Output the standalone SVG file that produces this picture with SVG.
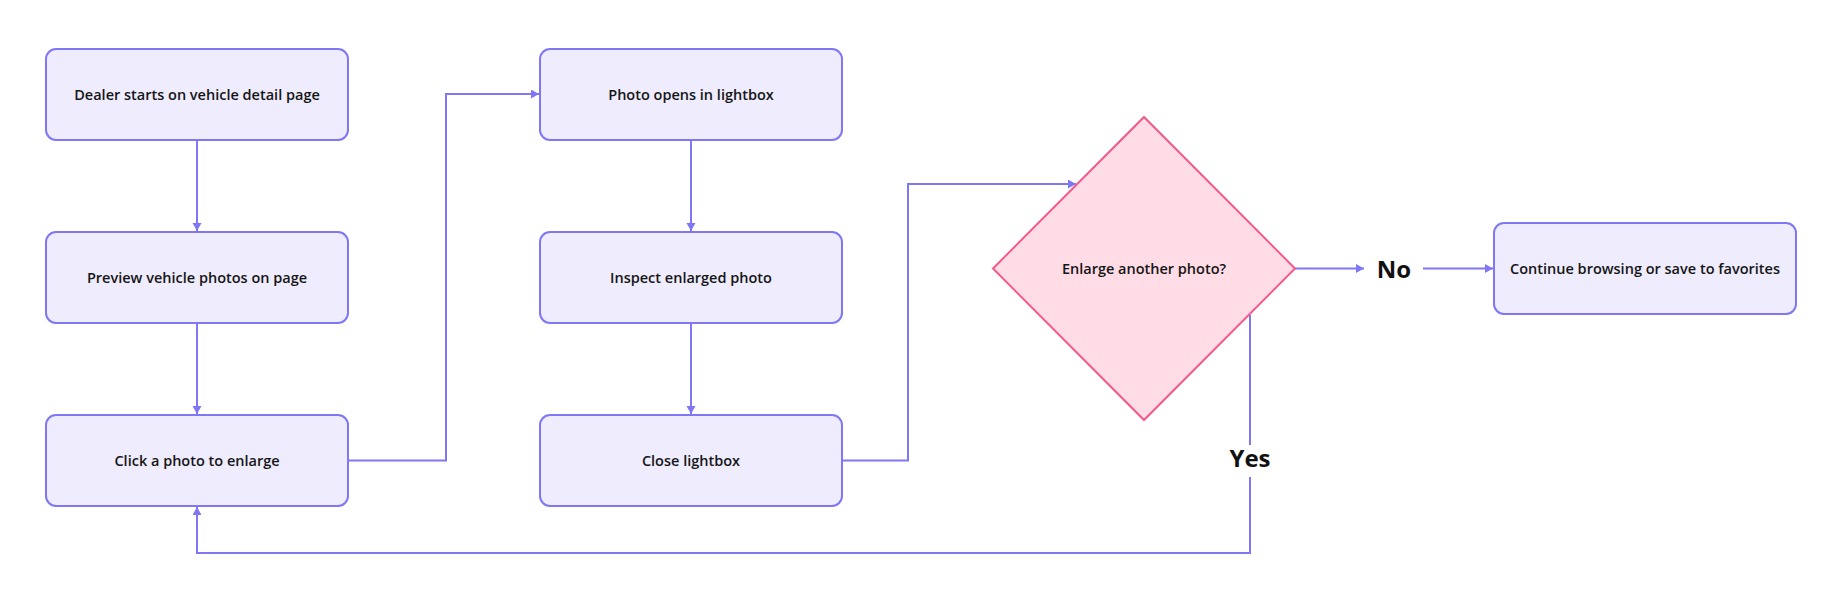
<svg xmlns="http://www.w3.org/2000/svg" width="1831" height="606" viewBox="0 0 1831 606">
<style>
.box{fill:#EEECFD;stroke:#7F77F3;stroke-width:2}
.dia{fill:#FFDCE6;stroke:#F5588A;stroke-width:2}
.lbl{font-family:"Open Sans","Noto Sans",sans-serif;font-size:14.5px;font-weight:600;fill:#151515;text-anchor:middle;dominant-baseline:central}
.elbl{font-family:"Open Sans","Noto Sans",sans-serif;font-size:24px;font-weight:700;fill:#111;text-anchor:middle;dominant-baseline:central}
.edge{fill:none;stroke:#7F77F3;stroke-width:2}
</style>
<defs>
<marker id="ah" markerUnits="userSpaceOnUse" markerWidth="9" markerHeight="10" refX="8" refY="4.5" orient="auto">
<path d="M0,0 L8,4.5 L0,9 z" fill="#7F77F3"/>
</marker>
</defs>
<rect width="1831" height="606" fill="#fff"/>
<g id="connectors">
<path class="edge" d="M197,140 V231" marker-end="url(#ah)"/>
<path class="edge" d="M197,323 V414" marker-end="url(#ah)"/>
<path class="edge" d="M348,460.5 H446 V94 H539" marker-end="url(#ah)"/>
<path class="edge" d="M691,140 V231" marker-end="url(#ah)"/>
<path class="edge" d="M691,323 V414" marker-end="url(#ah)"/>
<path class="edge" d="M842,460.5 H908 V184 H1076" marker-end="url(#ah)"/>
<path class="edge" d="M1295,268.5 H1364" marker-end="url(#ah)"/>
<path class="edge" d="M1423,268.5 H1493" marker-end="url(#ah)"/>
<path class="edge" d="M1250,315 V445"/>
<path class="edge" d="M1250,477 V553 H197 V507" marker-end="url(#ah)"/>
<text class="elbl" x="1394" y="268">No</text>
<text class="elbl" x="1250" y="457">Yes</text>
</g>
<g id="n1"><rect class="box" x="46" y="49" width="302" height="91" rx="10"/><text class="lbl" x="197" y="94">Dealer starts on vehicle detail page</text></g>
<g id="n2"><rect class="box" x="46" y="232" width="302" height="91" rx="10"/><text class="lbl" x="197" y="277">Preview vehicle photos on page</text></g>
<g id="n3"><rect class="box" x="46" y="415" width="302" height="91" rx="10"/><text class="lbl" x="197" y="460">Click a photo to enlarge</text></g>
<g id="n4"><rect class="box" x="540" y="49" width="302" height="91" rx="10"/><text class="lbl" x="691" y="94">Photo opens in lightbox</text></g>
<g id="n5"><rect class="box" x="540" y="232" width="302" height="91" rx="10"/><text class="lbl" x="691" y="277">Inspect enlarged photo</text></g>
<g id="n6"><rect class="box" x="540" y="415" width="302" height="91" rx="10"/><text class="lbl" x="691" y="460">Close lightbox</text></g>
<g id="n7"><polygon class="dia" points="1144,117 1295,268.5 1144,420 993,268.5"/><text class="lbl" x="1144" y="268">Enlarge another photo?</text></g>
<g id="n8"><rect class="box" x="1494" y="223" width="302" height="91" rx="10"/><text class="lbl" x="1645" y="268">Continue browsing or save to favorites</text></g>
</svg>
